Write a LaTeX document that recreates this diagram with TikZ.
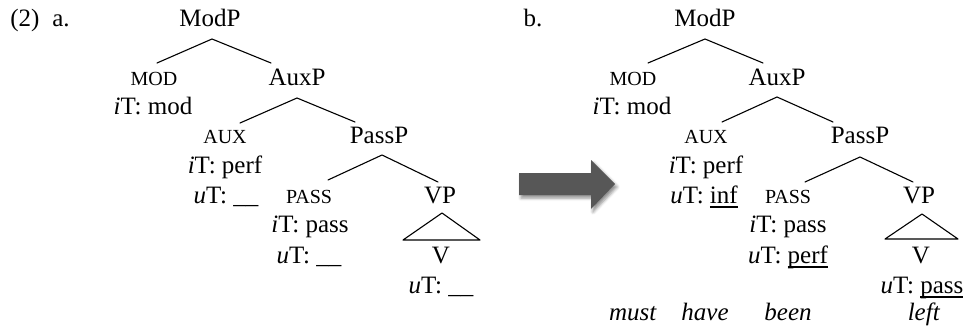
\documentclass[tikz,border=0pt]{standalone}
\usepackage{fontspec}
\setmainfont{Liberation Serif}
\usetikzlibrary{shadows.blur}
% category labels in (faked) small capitals
\newcommand\catsc[1]{{\fontsize{20}{24}\selectfont #1}}
\newcommand\ifeat[1]{\textit{i}T: #1}
\newcommand\ufeat[1]{\textit{u}T: #1}
% word-processor style underline at a fixed depth below the baseline
\newcommand\featul[1]{\setbox0\hbox{#1}\rlap{\rule[-4.6pt]{\wd0}{1.3pt}}\box0}
\begin{document}
\begin{tikzpicture}[x=1pt,y=-1pt,font=\fontsize{25}{30}\selectfont,
  lbl/.style={anchor=base,inner sep=0pt,outer sep=0pt},
  branch/.style={line width=1.1pt,line cap=round,line join=round},
  bigarrow/.style={fill=black!66,draw=none,
    blur shadow={shadow xshift=2pt,shadow yshift=-3pt,shadow blur radius=3pt,shadow opacity=45}}]
\useasboundingbox (0,0) rectangle (969,326);

% example number and panel labels
\node[lbl] (exnum) at (25,27) {(2)};
\node[lbl] (pa) at (61,27) {a.};
\node[lbl] (pb) at (533,27) {b.};

% ---------- tree a ----------
\node[lbl] (a-modp) at (210,27) {ModP};
\node[lbl] (a-mod) at (154,86) {\catsc{MOD}};
\node[lbl] (a-modi) at (153,115) {\ifeat{mod}};
\node[lbl] (a-auxp) at (297,86) {AuxP};
\node[lbl] (a-aux) at (225,143) {\catsc{AUX}};
\node[lbl] (a-auxi) at (225,173) {\ifeat{perf}};
\node[lbl] (a-auxu) at (226,203) {\ufeat{\_\_}};
\node[lbl] (a-passp) at (379,143) {PassP};
\node[lbl] (a-pass) at (309,203) {\catsc{PASS}};
\node[lbl] (a-passi) at (310,232) {\ifeat{pass}};
\node[lbl] (a-passu) at (309,263) {\ufeat{\_\_}};
\node[lbl] (a-vp) at (440,203) {VP};
\node[lbl] (a-v) at (441,263) {V};
\node[lbl] (a-vu) at (441,293) {\ufeat{\_\_}};

\coordinate (a-modp-top) at (212,39);
\coordinate (a-mod-end) at (157,63);
\coordinate (a-auxp-end) at (271,63);
\coordinate (a-auxp-top) at (297,98);
\coordinate (a-aux-end) at (240,123);
\coordinate (a-passp-end) at (355,122);
\coordinate (a-passp-top) at (382,155);
\coordinate (a-pass-end) at (328,180);
\coordinate (a-vp-end) at (438,182);
\coordinate (a-tri-top) at (442,213);
\coordinate (a-tri-l) at (403,240);
\coordinate (a-tri-r) at (480,240);

\draw[branch] (a-mod-end) -- (a-modp-top) -- (a-auxp-end);
\draw[branch] (a-aux-end) -- (a-auxp-top) -- (a-passp-end);
\draw[branch] (a-pass-end) -- (a-passp-top) -- (a-vp-end);
\draw[branch] (a-tri-top) -- (a-tri-l) -- (a-tri-r) -- cycle;

% ---------- arrow between the panels ----------
\fill[bigarrow] (519,173) -- (591,173) -- (591,160) -- (615,184)
  -- (591,209) -- (591,195) -- (519,195) -- cycle;

% ---------- tree b ----------
\node[lbl] (b-modp) at (705,27) {ModP};
\node[lbl] (b-mod) at (633,86) {\catsc{MOD}};
\node[lbl] (b-modi) at (632,115) {\ifeat{mod}};
\node[lbl] (b-auxp) at (777,86) {AuxP};
\node[lbl] (b-aux) at (706,143) {\catsc{AUX}};
\node[lbl] (b-auxi) at (706,173) {\ifeat{perf}};
\node[lbl] (b-auxu) at (704,203) {\ufeat{\featul{inf}}};
\node[lbl] (b-passp) at (860,143) {PassP};
\node[lbl] (b-pass) at (788,203) {\catsc{PASS}};
\node[lbl] (b-passi) at (788,232) {\ifeat{pass}};
\node[lbl] (b-passu) at (788,263) {\ufeat{\featul{perf}}};
\node[lbl] (b-vp) at (919,203) {VP};
\node[lbl] (b-v) at (921,263) {V};
\node[lbl] (b-vu) at (922,293) {\ufeat{\featul{pass}}};

\coordinate (b-modp-top) at (705,39);
\coordinate (b-mod-end) at (648,63);
\coordinate (b-auxp-end) at (763,63);
\coordinate (b-auxp-top) at (777,97);
\coordinate (b-aux-end) at (722,122);
\coordinate (b-passp-end) at (833,122);
\coordinate (b-passp-top) at (860,157);
\coordinate (b-pass-end) at (805,182);
\coordinate (b-vp-end) at (913,182);
\coordinate (b-tri-top) at (922,214);
\coordinate (b-tri-l) at (885,239);
\coordinate (b-tri-r) at (958,239);

\draw[branch] (b-mod-end) -- (b-modp-top) -- (b-auxp-end);
\draw[branch] (b-aux-end) -- (b-auxp-top) -- (b-passp-end);
\draw[branch] (b-pass-end) -- (b-passp-top) -- (b-vp-end);
\draw[branch] (b-tri-top) -- (b-tri-l) -- (b-tri-r) -- cycle;

% the words spelled out under tree b
\node[lbl] (w-must) at (633,320) {\textit{must}};
\node[lbl] (w-have) at (705,320) {\textit{have}};
\node[lbl] (w-been) at (788,320) {\textit{been}};
\node[lbl] (w-left) at (924,320) {\textit{left}};
\end{tikzpicture}
\end{document}
